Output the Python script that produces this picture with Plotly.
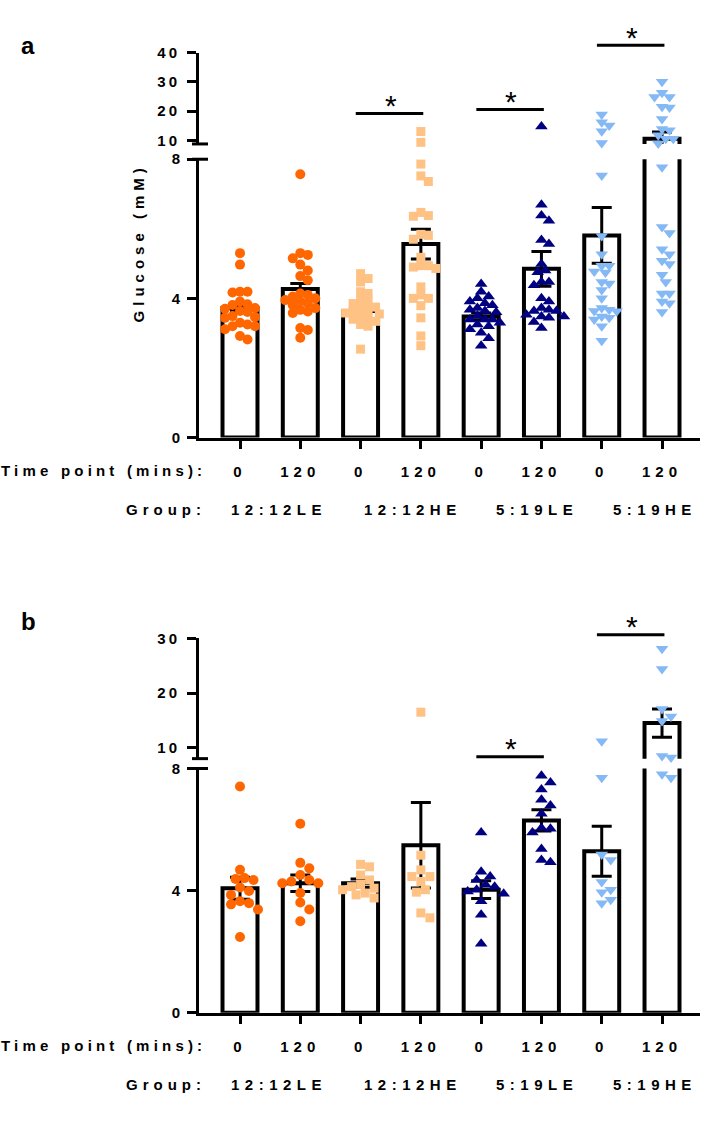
import plotly.graph_objects as go

# ---------------- data ----------------
groups = ["12:12LE", "12:12HE", "5:19LE", "5:19HE"]
time_labels = ["0", "120", "0", "120", "0", "120", "0", "120"]

# Panel a: individual glucose values (mM)
a_1212LE_0 = [5.30, 4.97, 4.17, 4.19, 4.19, 3.83, 3.81, 3.91, 3.61, 3.64, 3.72, 3.70, 3.46, 3.44, 3.49, 3.25, 3.20, 3.30, 3.20, 3.11, 2.92, 2.82]
a_1212LE_120 = [7.57, 5.30, 5.25, 5.15, 4.97, 4.80, 4.64, 4.52, 4.14, 4.10, 4.05, 4.00, 3.95, 3.91, 3.86, 3.80, 3.72, 3.67, 3.62, 3.58, 3.15, 3.09, 2.87]
a_1212HE_0 = [4.71, 4.57, 4.47, 4.19, 4.14, 3.95, 3.91, 3.85, 3.75, 3.72, 3.66, 3.63, 3.58, 3.55, 3.50, 3.44, 3.40, 3.34, 3.25, 3.20, 2.54]
a_1212HE_120 = [13.0, 9.3, 7.86, 7.52, 7.36, 6.47, 6.38, 6.36, 5.84, 5.81, 5.70, 5.18, 4.94, 4.94, 4.90, 4.86, 4.33, 4.10, 4.00, 4.00, 3.79, 3.44, 2.92, 2.64]
a_519LE_0 = [4.41, 4.19, 4.05, 4.00, 3.91, 3.86, 3.80, 3.72, 3.67, 3.64, 3.60, 3.50, 3.39, 3.39, 3.39, 3.30, 3.25, 3.20, 3.11, 3.01, 2.85, 2.64]
a_519LE_120 = [14.7, 6.69, 6.38, 6.23, 5.68, 5.56, 4.99, 4.80, 4.75, 4.47, 4.47, 4.38, 4.00, 3.91, 3.72, 3.67, 3.64, 3.64, 3.53, 3.48, 3.48, 3.44, 3.32, 3.15]
a_519HE_0 = [18.8, 16.2, 15.1, 13.1, 9.1, 7.53, 5.79, 5.27, 4.94, 4.94, 4.77, 4.74, 4.47, 4.43, 4.24, 4.00, 3.72, 3.67, 3.64, 3.63, 3.48, 3.44, 3.39, 3.20, 2.78]
a_519HE_120 = [30.0, 26.3, 24.8, 24.8, 21.5, 21.2, 17.3, 13.9, 13.4, 11.7, 10.5, 10.5, 8.9, 7.77, 6.05, 5.88, 5.41, 5.27, 5.08, 4.99, 4.68, 4.47, 4.14, 4.14, 3.91, 3.86, 3.61]
a_means = [3.72, 4.27, 3.64, 5.56, 3.48, 4.85, 5.81, 10.5]
a_sems = [0.10, 0.16, 0.10, 0.43, 0.10, 0.50, 0.80, 2.3]

# Panel b: individual glucose values (mM)
b_1212LE_0 = [7.41, 4.68, 4.41, 4.38, 4.35, 4.10, 3.99, 3.86, 3.65, 3.59, 3.55, 3.38, 2.48]
b_1212LE_120 = [6.19, 4.91, 4.73, 4.51, 4.35, 4.30, 4.24, 4.24, 3.92, 3.61, 3.38, 3.00]
b_1212HE_0 = [4.86, 4.78, 4.51, 4.35, 4.20, 4.13, 4.08, 4.03, 3.92, 3.86, 3.76]
b_1212HE_120 = [16.5, 5.16, 4.68, 4.46, 4.46, 4.30, 4.03, 3.95, 3.27, 3.11]
b_519LE_0 = [5.90, 4.62, 4.46, 4.35, 4.19, 4.13, 4.03, 3.97, 3.90, 3.65, 3.21, 2.26]
b_519LE_120 = [7.76, 7.54, 7.31, 6.98, 6.79, 6.52, 6.05, 6.03, 5.90, 5.36, 5.00, 4.93]
b_519HE_0 = [11.2, 7.70, 5.18, 5.00, 4.28, 4.03, 3.95, 3.70, 3.59]
b_519HE_120 = [28.1, 24.4, 17.1, 15.7, 14.9, 8.5, 8.2, 7.81, 7.70]
b_means = [4.08, 4.24, 4.24, 5.49, 4.03, 6.30, 5.29, 14.5]
b_sems = [0.36, 0.27, 0.14, 1.40, 0.29, 0.35, 0.82, 2.6]

# significance comparisons: (first bar, second bar, bracket height in mM)
a_sig = [(2, 3, 19.2), (4, 5, 20.5), (6, 7, 42.5)]
b_sig = [(4, 5, 8.36), (6, 7, 30.7)]

# ---------------- styling / layout constants ----------------
W, H = 710, 1138
FONT = "Liberation Sans, Arial, sans-serif"
X_PX = (199, 700)
X_RANGE = (-0.68, 7.63)
PANELS = {
    "a": dict(lower_px=(435, 152.5), upper_px=(137, 44.3), lower_range=(0, 8), upper_range=(8.75, 40),
              upper_ticks=[10, 20, 30, 40], label_px=37, swarm_d=7.5),
    "b": dict(lower_px=(1019, 771), upper_px=(761, 639), lower_range=(0, 8), upper_range=(8, 30),
              upper_ticks=[10, 20, 30], label_px=622, swarm_d=9.0),
}
GROUP_LABEL_SHIFT = [9, 22, 26, 23]  # px, label placement relative to pair midpoint
series_style = [
    dict(symbol="circle", color="#FF6600", size=10),
    dict(symbol="circle", color="#FF6600", size=10),
    dict(symbol="square", color="#FFC285", size=9),
    dict(symbol="square", color="#FFC285", size=9),
    dict(symbol="triangle-up", color="#000080", size=11),
    dict(symbol="triangle-up", color="#000080", size=11),
    dict(symbol="triangle-down", color="#85B9F5", size=11),
    dict(symbol="triangle-down", color="#85B9F5", size=11),
]

xs = list(range(8))
X_SCALE = (X_PX[1] - X_PX[0]) / (X_RANGE[1] - X_RANGE[0])  # px per category unit


def sp(text, ls):
    return f'<span style="letter-spacing:{ls}px">{text}</span>'


def ydom(px_pair):
    return [1 - px_pair[0] / H, 1 - px_pair[1] / H]


def val_to_px(v, p):
    lo0, lo1 = p["lower_range"]
    up0, up1 = p["upper_range"]
    if v <= lo1:
        b, t = p["lower_px"]
        return b - (v - lo0) / (lo1 - lo0) * (b - t)
    b, t = p["upper_px"]
    return b - (v - up0) / (up1 - up0) * (b - t)


def swarm(vals, p, diam):
    """Deterministic beeswarm: offsets (category units) that avoid overlap."""
    pys = [val_to_px(v, p) for v in vals]
    order = sorted(range(len(vals)), key=lambda i: pys[i])
    placed, offs = [], [0.0] * len(vals)
    step = diam * 0.5
    for i in order:
        y = pys[i]
        k = 0
        done = False
        while not done:
            cands = [0.0] if k == 0 else [k * step, -k * step]
            for c in cands:
                if all((c - px) ** 2 + (y - py) ** 2 >= diam ** 2 for px, py in placed):
                    placed.append((c, y))
                    offs[i] = c / X_SCALE
                    done = True
                    break
            k += 1
    return offs


fig = go.Figure()

panel_data = {
    "a": ([a_1212LE_0, a_1212LE_120, a_1212HE_0, a_1212HE_120, a_519LE_0, a_519LE_120, a_519HE_0, a_519HE_120],
          a_means, a_sems, a_sig),
    "b": ([b_1212LE_0, b_1212LE_120, b_1212HE_0, b_1212HE_120, b_519LE_0, b_519LE_120, b_519HE_0, b_519HE_120],
          b_means, b_sems, b_sig),
}
axis_ids = {"a": ("x", "y", "y2"), "b": ("x2", "y3", "y4")}

shapes, annotations = [], []
for key in ["a", "b"]:
    p = PANELS[key]
    series, means, sems, sig = panel_data[key]
    xa, ylo, yup = axis_ids[key]
    for ya in (ylo, yup):
        fig.add_trace(go.Bar(
            x=xs, y=means, width=0.58, xaxis=xa, yaxis=ya,
            marker=dict(color="white", line=dict(color="black", width=4)),
            error_y=dict(type="data", array=sems, color="black", thickness=3, width=10),
            hoverinfo="skip"))
    for i, vals in enumerate(series):
        offs = swarm(vals, p, p["swarm_d"])
        st = series_style[i]
        lim = p["lower_range"][1]
        lo_x = [xs[i] + o for v, o in zip(vals, offs) if v <= lim]
        lo_y = [v for v in vals if v <= lim]
        up_x = [xs[i] + o for v, o in zip(vals, offs) if v > lim]
        up_y = [v for v in vals if v > lim]
        for xx, yy, ya in ((lo_x, lo_y, ylo), (up_x, up_y, yup)):
            if xx:
                fig.add_trace(go.Scatter(
                    x=xx, y=yy, xaxis=xa, yaxis=ya, mode="markers", cliponaxis=False,
                    marker=dict(symbol=st["symbol"], color=st["color"], size=st["size"], line=dict(width=0))))

    # axis break caps
    for ypx in (p["lower_px"][1], p["upper_px"][0]):
        shapes.append(dict(type="line", xref="paper", yref="paper",
                           x0=(X_PX[0] - 7) / W, x1=(X_PX[0] + 9) / W,
                           y0=1 - ypx / H, y1=1 - ypx / H, line=dict(color="black", width=3)))

    # significance brackets
    ud = ydom(p["upper_px"])
    u0, u1 = p["upper_range"]
    for c0, c1, hv in sig:
        yp = ud[0] + (hv - u0) / (u1 - u0) * (ud[1] - ud[0])
        shapes.append(dict(type="line", xref=xa, yref="paper", x0=c0 - 0.08, x1=c1 + 0.04,
                           y0=yp, y1=yp, line=dict(color="black", width=3)))
        annotations.append(dict(text="*", xref=xa, yref="paper", x=(c0 + c1) / 2, y=yp,
                                xanchor="center", yanchor="middle", yshift=8, showarrow=False,
                                font=dict(family=FONT, size=30, color="black")))

    # row labels
    base = p["lower_px"][0]
    annotations.append(dict(text=sp("Time point (mins):", 4.2), xref="paper", yref="paper",
                            x=208 / W, y=1 - (base + 33) / H, xanchor="right", yanchor="middle",
                            showarrow=False, font=dict(family=FONT, size=15, color="black", weight="bold")))
    annotations.append(dict(text=sp("Group:", 5), xref="paper", yref="paper",
                            x=208 / W, y=1 - (base + 73) / H, xanchor="right", yanchor="middle",
                            showarrow=False, font=dict(family=FONT, size=15, color="black", weight="bold")))
    for g, name in enumerate(groups):
        annotations.append(dict(text=sp(name, 5.5), xref=xa, yref="paper",
                                x=2 * g + 0.5, y=1 - (base + 73) / H, xanchor="center", yanchor="middle",
                                xshift=GROUP_LABEL_SHIFT[g], showarrow=False,
                                font=dict(family=FONT, size=15, color="black", weight="bold")))
    annotations.append(dict(text=key, xref="paper", yref="paper", x=19 / W, y=1 - p["label_px"] / H,
                            xanchor="left", yanchor="middle", showarrow=False,
                            font=dict(family=FONT, size=24, color="black", weight="bold")))

annotations.append(dict(text=sp("Glucose (mM)", 5), xref="paper", yref="paper", x=138 / W, y=1 - 238 / H,
                        textangle=-90, xanchor="center", yanchor="middle", showarrow=False,
                        font=dict(family=FONT, size=15, color="black", weight="bold")))

tickfont = dict(family=FONT, size=15, color="black", weight="bold")
yax = dict(showline=True, linecolor="black", linewidth=3, ticks="outside", ticklen=9, tickwidth=3,
           tickcolor="black", showgrid=False, zeroline=False, tickfont=tickfont, ticklabelstandoff=4)
xdomain = [X_PX[0] / W, X_PX[1] / W]
xax = dict(domain=xdomain, range=list(X_RANGE), showline=True, linecolor="black", linewidth=3,
           ticks="outside", ticklen=8, tickwidth=3, tickcolor="black", showgrid=False, zeroline=False,
           tickvals=xs, ticktext=[sp(t, 5) for t in time_labels], tickfont=tickfont, ticklabelstandoff=10)

layout = dict(width=W, height=H, margin=dict(l=0, r=0, t=0, b=0), paper_bgcolor="white",
              plot_bgcolor="rgba(0,0,0,0)", showlegend=False, barmode="overlay", hovermode=False,
              shapes=shapes, annotations=annotations)
layout["xaxis"] = dict(xax, anchor="y")
layout["xaxis2"] = dict(xax, anchor="y3")
for key, (xa, ylo, yup) in axis_ids.items():
    p = PANELS[key]
    lo_name = "yaxis" if ylo == "y" else "yaxis" + ylo[1:]
    up_name = "yaxis" + yup[1:]
    layout[lo_name] = dict(yax, domain=ydom(p["lower_px"]), range=list(p["lower_range"]), anchor=xa,
                           tickvals=[0, 4, 8], ticktext=["0", "4", "8"])
    layout[up_name] = dict(yax, domain=ydom(p["upper_px"]), range=list(p["upper_range"]), anchor=xa,
                           tickvals=p["upper_ticks"], ticktext=[sp(str(t), 3) for t in p["upper_ticks"]])

fig.update_layout(**layout)
fig.write_html("out.html", config={"displayModeBar": False, "staticPlot": True},
               post_script="document.body.style.margin='0';document.body.style.overflow='hidden';")
